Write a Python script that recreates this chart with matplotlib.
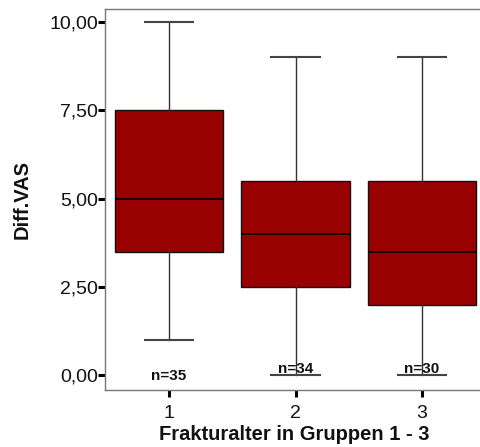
import matplotlib
matplotlib.use("Agg")
import matplotlib.pyplot as plt
from matplotlib.ticker import FuncFormatter

plt.rcParams['font.family'] = ['Liberation Sans', 'DejaVu Sans']

groups = ["1", "2", "3"]
whisker_low = [1.0, 0.0, 0.0]
q1 = [3.5, 2.5, 2.0]
median = [5.0, 4.0, 3.5]
q3 = [7.5, 5.5, 5.5]
whisker_high = [10.0, 9.0, 9.0]
counts = [35, 34, 30]
count_label_y = [-0.03, 0.18, 0.18]
y_ticks = [0.0, 2.5, 5.0, 7.5, 10.0]

fig = plt.figure(figsize=(4.8, 4.47), dpi=100)
ax = fig.add_axes([105 / 480, 1 - 390 / 447, 381 / 480, 381 / 447])

stats = []
for i, g in enumerate(groups):
    stats.append(dict(label=g, whislo=whisker_low[i], q1=q1[i], med=median[i],
                      q3=q3[i], whishi=whisker_high[i], fliers=[]))

positions = list(range(1, len(groups) + 1))
ax.bxp(stats, positions=positions, widths=0.855, capwidths=0.38,
       showfliers=False, patch_artist=True,
       boxprops=dict(facecolor="#990000", edgecolor="#111111", linewidth=1.0),
       medianprops=dict(color="#000000", linewidth=1.2),
       whiskerprops=dict(color="#333333", linewidth=1.0),
       capprops=dict(color="#444444", linewidth=1.5))

for x, n, y in zip(positions, counts, count_label_y):
    ax.text(x, y, f"n={n}", ha="center", va="center", fontsize=11,
            fontweight="bold", color="#111111")

ax.set_xlim(0.494, 3.506)
ax.set_ylim(-0.42, 10.37)
ax.set_yticks(y_ticks)
ax.yaxis.set_major_formatter(FuncFormatter(lambda v, p: f"{v:.2f}".replace(".", ",")))
ax.set_xticks(positions)
ax.set_xticklabels(groups)

for side in ["top", "left", "bottom", "right"]:
    ax.spines[side].set_color("#777777")
    ax.spines[side].set_linewidth(1.0)

ax.tick_params(axis="both", direction="out", length=5, width=2.2,
               color="#000000", labelsize=14, labelcolor="#111111")
ax.tick_params(axis="y", pad=0)
ax.tick_params(axis="x", pad=6)

fig.text(22 / 480, 1 - 199 / 447, "Diff.VAS", rotation=90, ha="center",
         va="center", fontsize=14.5, fontweight="bold", color="#111111")
fig.text(294 / 480, 1 - 434 / 447, "Frakturalter in Gruppen 1 - 3", ha="center",
         va="center", fontsize=14.5, fontweight="bold", color="#111111")

fig.savefig("out.png", dpi=100)
